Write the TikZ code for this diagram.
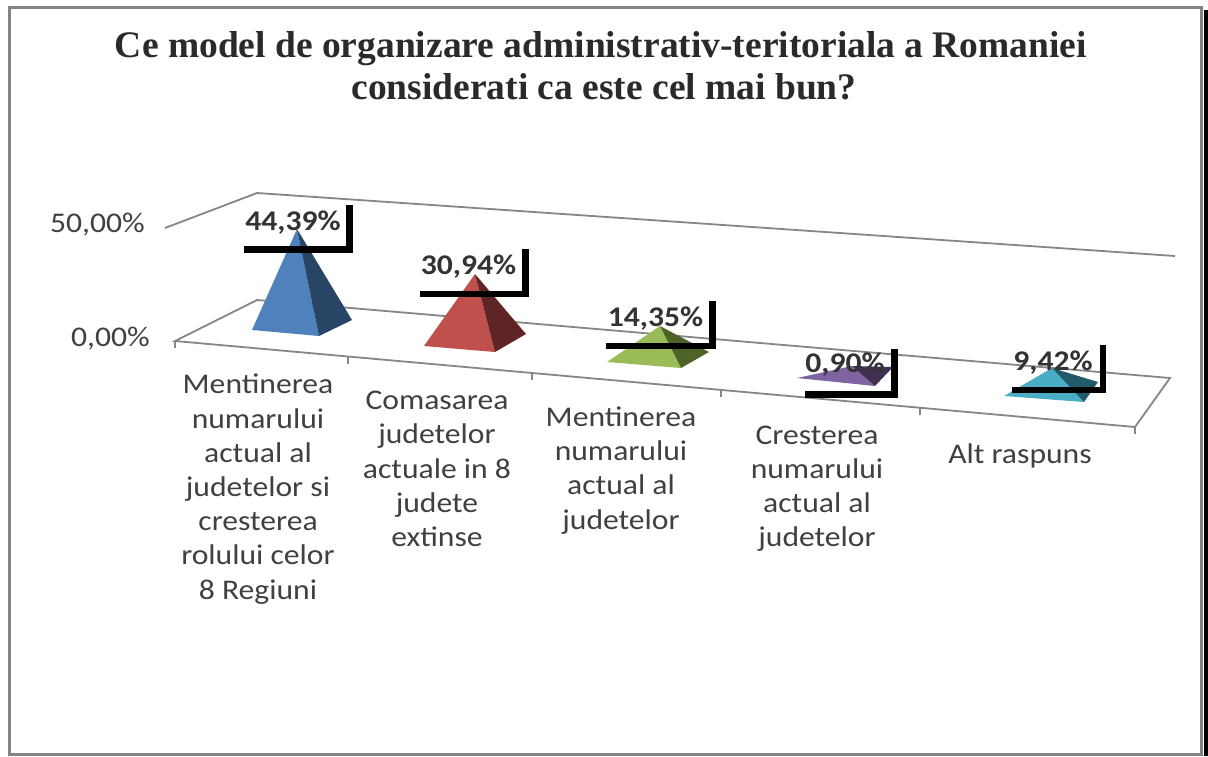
\documentclass[tikz,border=0pt]{standalone}
\usepackage{fontspec}
\setmainfont{Liberation Serif}
\newfontfamily\calib[FakeStretch=1.11]{Carlito}
\definecolor{gridc}{HTML}{868686}
\definecolor{framec}{HTML}{848484}
\definecolor{axtxt}{HTML}{404040}
\definecolor{valtxt}{HTML}{333333}
\definecolor{ttltxt}{HTML}{2A2A2A}
\definecolor{bluef}{HTML}{4F81BD}
\definecolor{blues}{HTML}{284566}
\definecolor{redf}{HTML}{C0504D}
\definecolor{reds}{HTML}{5F2524}
\definecolor{greenf}{HTML}{9BBB59}
\definecolor{greens}{HTML}{4F6228}
\definecolor{purf}{HTML}{8064A2}
\definecolor{purs}{HTML}{403152}
\definecolor{cyanf}{HTML}{4BACC6}
\definecolor{cyans}{HTML}{225A69}
\newcommand\drawpyr[6]{%
  \fill[#5] #1 -- #2 -- #3 -- cycle;
  \fill[#6] #1 -- #3 -- #4 -- cycle;}
\begin{document}
\begin{tikzpicture}[x=1pt,y=-1pt,
  cat/.style={font=\calib\fontsize{28.5}{34.2}\selectfont, text=axtxt, align=center, inner sep=0pt, anchor=north},
  ax/.style={font=\calib\fontsize{28.5}{30}\selectfont, text=axtxt, inner sep=0pt, anchor=east},
  val/.style={font=\calib\bfseries\fontsize{28.5}{30}\selectfont, text=valtxt, inner sep=0pt},
  gridln/.style={draw=gridc, line width=1.8pt, line join=miter},
  brk/.style={draw=black, line width=6.5pt, line join=miter},
  ttl/.style={font=\bfseries\fontsize{37.5}{42}\selectfont, text=ttltxt, inner sep=0pt, anchor=base}
]
\useasboundingbox (0,0) rectangle (1208,756);
\fill[white] (0,0) rectangle (1208,756);
% frame
\draw[draw=framec, line width=3pt] (9.5,7.5) rectangle (1201.5,754.5);
\fill[black] (1203.5,10) rectangle (1208,756);
% title
\node[ttl] (t1) at (601,57) {Ce model de organizare administrativ-teritoriala a Romaniei};
\node[ttl] (t2) at (604,99) {considerati ca este cel mai bun?};
% grid
\draw[gridln] (175,341) -- (257,300) -- (1170,378) -- (1135,427) -- cycle;
\draw[gridln] (165,228) -- (257,193) -- (1175,256);
\foreach \x in {175,348,532,721,920,1135}
  \draw[gridln] (\x,{341+0.0896*(\x-175)}) -- ++(0,7);
% axis labels
\node[ax] (y50) at (145,225) {50,00\%};
\node[ax] (y0) at (150,339) {0,00\%};
% pyramids
\drawpyr{(297,229)}{(252,330)}{(319,336)}{(352,320)}{bluef}{blues}
\drawpyr{(475,274)}{(424,346)}{(495,352)}{(526,334)}{redf}{reds}
\drawpyr{(660,326)}{(607,362)}{(681,368)}{(709,352)}{greenf}{greens}
\drawpyr{(852,366)}{(797,378)}{(875,386)}{(893,367)}{purf}{purs}
\drawpyr{(1052,368)}{(1004,396)}{(1084,402)}{(1098,382)}{cyanf}{cyans}
% value labels
\node[val] (v1) at (293,223) {44,39\%};
\node[val] (v2) at (468.5,267) {30,94\%};
\node[val] (v3) at (655.5,319) {14,35\%};
\node[val] (v4) at (845,365) {0,90\%};
\node[val] (v5) at (1053,363) {9,42\%};
% brackets
\draw[brk] (244,249.5) -- (349.5,249.5) -- (349.5,205);
\draw[brk] (420,294) -- (525.5,294) -- (525.5,249);
\draw[brk] (606,346) -- (712.5,346) -- (712.5,301);
\draw[brk] (805,394.5) -- (894.5,394.5) -- (894.5,349);
\draw[brk] (1012,390) -- (1103,390) -- (1103,345);
% category labels
\node[cat] (c1) at (258,374) {Mentinerea\\numarului\\actual al\\judetelor si\\cresterea\\rolului celor\\8 Regiuni};
\node[cat] (c2) at (437,391) {Comasarea\\judetelor\\actuale in 8\\judete\\extinse};
\node[cat] (c3) at (621,406.5) {Mentinerea\\numarului\\actual al\\judetelor};
\node[cat] (c4) at (817,425.5) {Cresterea\\numarului\\actual al\\judetelor};
\node[cat] (c5) at (1020,443.5) {Alt raspuns};
\end{tikzpicture}
\end{document}
